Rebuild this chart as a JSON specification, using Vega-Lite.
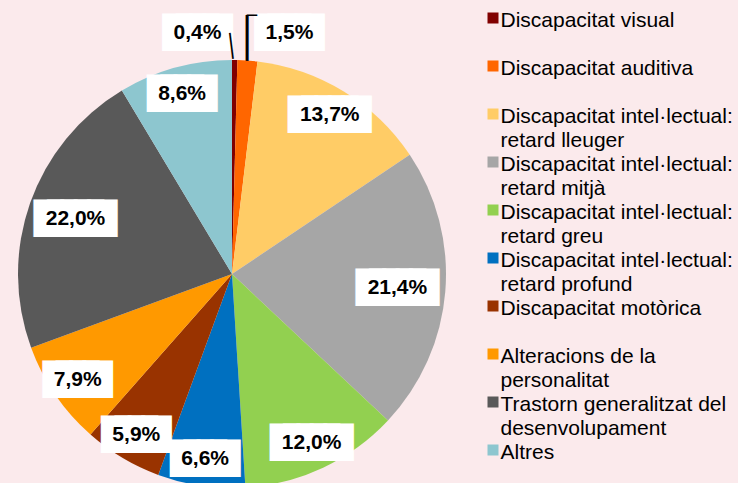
{
  "$schema": "https://vega.github.io/schema/vega-lite/v6.json",
  "width": 464,
  "height": 548,
  "padding": 0,
  "background": "#fbeaec",
  "config": {
    "view": {"stroke": null},
    "locale": {"number": {"decimal": ",", "thousands": ".", "grouping": [3], "currency": ["", " €"]}}
  },
  "data": {
    "values": [
      {"n": 1, "cat": "Discapacitat visual", "share": 0.004},
      {"n": 2, "cat": "Discapacitat auditiva", "share": 0.015},
      {"n": 3, "cat": "Discapacitat intel·lectual: retard lleuger", "share": 0.137},
      {"n": 4, "cat": "Discapacitat intel·lectual: retard mitjà", "share": 0.214},
      {"n": 5, "cat": "Discapacitat intel·lectual: retard greu", "share": 0.12},
      {"n": 6, "cat": "Discapacitat intel·lectual: retard profund", "share": 0.066},
      {"n": 7, "cat": "Discapacitat motòrica", "share": 0.059},
      {"n": 8, "cat": "Alteracions de la personalitat", "share": 0.079},
      {"n": 9, "cat": "Trastorn generalitzat del desenvolupament", "share": 0.22},
      {"n": 10, "cat": "Altres", "share": 0.086}
    ]
  },
  "encoding": {
    "theta": {"field": "share", "type": "quantitative", "stack": true},
    "order": {"field": "n", "type": "quantitative"},
    "detail": {"field": "cat"}
  },
  "layer": [
    {
      "mark": {"type": "arc", "outerRadius": 214},
      "encoding": {
        "color": {
          "field": "cat",
          "type": "nominal",
          "sort": null,
          "scale": {
            "domain": ["Discapacitat visual", "Discapacitat auditiva", "Discapacitat intel·lectual: retard lleuger", "Discapacitat intel·lectual: retard mitjà", "Discapacitat intel·lectual: retard greu", "Discapacitat intel·lectual: retard profund", "Discapacitat motòrica", "Alteracions de la personalitat", "Trastorn generalitzat del desenvolupament", "Altres"],
            "range": ["#800000", "#ff6600", "#ffcc66", "#a6a6a6", "#92d050", "#0070c0", "#993300", "#ff9900", "#595959", "#8dc6cf"]
          },
          "legend": {
            "title": null,
            "orient": "right",
            "offset": 10.5,
            "padding": 7.5,
            "symbolType": "square",
            "symbolSize": 121,
            "symbolStrokeWidth": 0,
            "labelFont": "Liberation Sans",
            "labelFontSize": 21,
            "labelColor": "#000000",
            "labelLimit": 400,
            "labelOffset": -3,
            "rowPadding": -7.5,
            "labelBaseline": "top",
            "labelExpr": "indexof(datum.label, ': ') > 0 ? [substring(datum.label, 0, indexof(datum.label, ': ') + 1), substring(datum.label, indexof(datum.label, ': ') + 2)] : (length(split(datum.label, ' ')) > 2 ? [substring(datum.label, 0, lastindexof(datum.label, ' ')), substring(datum.label, lastindexof(datum.label, ' ') + 1)] : [datum.label, ' '])",
            "encode": {
              "labels": {"update": {"lineHeight": {"value": 24.25}, "dy": {"value": -8.5}}}
            }
          }
        }
      }
    },
    {
      "mark": {
        "type": "text",
        "radius": {"expr": "datum.n == 1 ? 241 : datum.n == 2 ? 242 : datum.share > 0.2 ? 166 : 187"},
        "dx": {"expr": "datum.n == 1 ? -37.5 : datum.n == 2 ? 40 : 0"},
        "font": "DejaVu Sans", "fontSize": 17.4, "color": "#ffffff", "stroke": "#ffffff", "strokeWidth": 17, "strokeJoin": "miter", "baseline": "middle", "align": "center"
      },
      "encoding": {
        "text": {"condition": {"test": "datum.share >= 0.1", "value": "█████"}, "value": "████"}
      }
    },
    {
      "mark": {
        "type": "text",
        "radius": {"expr": "datum.n == 1 ? 241 : datum.n == 2 ? 242 : datum.share > 0.2 ? 166 : 187"},
        "dx": {"expr": "datum.n == 1 ? -37.5 : datum.n == 2 ? 40 : 0"},
        "font": "Liberation Sans", "fontWeight": "bold", "fontSize": 21, "color": "#000000", "baseline": "middle", "align": "center"
      },
      "encoding": {
        "text": {"field": "share", "type": "quantitative", "format": ".1%"}
      }
    },
    {
      "mark": {
        "type": "text",
        "radius": {"expr": "datum.n == 1 ? 228 : datum.n == 2 ? 236 : 0"},
        "dx": {"expr": "datum.n == 1 ? -3.3 : datum.n == 2 ? -2 : 0"},
        "font": "DejaVu Sans", "color": "#000000", "baseline": "middle", "align": "center"
      },
      "encoding": {
        "text": {"condition": {"test": "datum.n <= 2", "value": "│"}, "value": ""},
        "size": {"condition": {"test": "datum.n == 1", "value": 22}, "value": 38.7},
        "angle": {"condition": {"test": "datum.n == 1", "value": -7}, "value": 0}
      }
    },
    {
      "mark": {
        "type": "text",
        "radius": {"expr": "datum.n == 2 ? 258.7 : 0"},
        "dx": {"expr": "datum.n == 2 ? 1.3 : 0"},
        "font": "DejaVu Sans", "fontSize": 17, "color": "#000000", "baseline": "middle", "align": "center"
      },
      "encoding": {
        "text": {"condition": {"test": "datum.n == 2", "value": "─"}, "value": ""}
      }
    }
  ]
}
